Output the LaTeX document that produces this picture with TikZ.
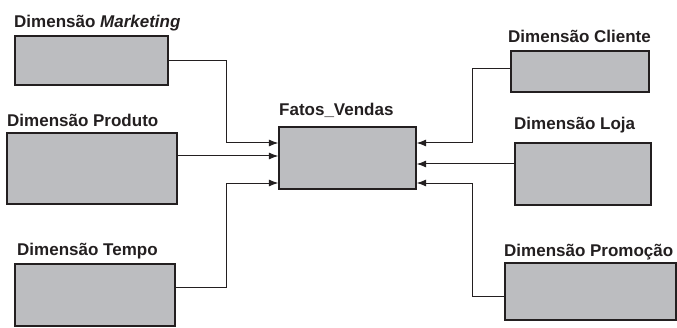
\documentclass[tikz,border=0pt]{standalone}
\usepackage{fontspec}
\setmainfont{Liberation Sans}
\usetikzlibrary{arrows.meta}
\definecolor{boxgray}{RGB}{188,189,192}
\definecolor{ink}{RGB}{35,31,32}
\begin{document}
\begin{tikzpicture}[x=1pt,y=1pt,
  dimbox/.style={draw=ink,fill=boxgray,line width=1.2pt,inner sep=0pt},
  lbl/.style={anchor=base west,inner sep=0pt,text=ink,font=\fontsize{17}{20}\selectfont\bfseries},
  conn/.style={draw=ink,line width=1pt,-{Latex[length=9.5pt,width=7pt]}}]
\useasboundingbox (0,0) rectangle (677,327);
% boxes
\node[dimbox,minimum width=153pt,minimum height=49pt] (mkt) at (91.5,266.5) {};
\node[dimbox,minimum width=170pt,minimum height=71pt] (prod) at (92,158.5) {};
\node[dimbox,minimum width=160pt,minimum height=62pt] (tempo) at (95,32) {};
\node[dimbox,minimum width=137pt,minimum height=62pt] (fact) at (347.5,169) {};
\node[dimbox,minimum width=138pt,minimum height=41pt] (cli) at (580,255.5) {};
\node[dimbox,minimum width=136pt,minimum height=62pt] (loja) at (583,153) {};
\node[dimbox,minimum width=171pt,minimum height=57pt] (promo) at (590.5,35.5) {};
% labels
\node[lbl] (lmkt) at (14,299) {Dimensão \textit{Marketing}};
\node[lbl] (lprod) at (7,200) {Dimensão Produto};
\node[lbl] (lfact) at (279,211) {Fatos\_Vendas};
\node[lbl] (ltempo) at (17,72) {Dimensão Tempo};
\node[lbl] (lcli) at (508,284) {Dimensão Cliente};
\node[lbl] (lloja) at (514,197) {Dimensão Loja};
\node[lbl] (lpromo) at (504,71) {Dimensão Promoção};
% bend points
\coordinate (bl1) at (226,266);
\coordinate (bl2) at (226,40);
\coordinate (br1) at (472,258);
\coordinate (br2) at (472,31);
% connectors
\draw[conn] (mkt.east |- bl1) -- (bl1) |- (fact.west |- 0,184);
\draw[conn] (prod.east |- 0,171) -- (fact.west |- 0,171);
\draw[conn] (tempo.east |- bl2) -- (bl2) |- (fact.west |- 0,144);
\draw[conn] (cli.west |- br1) -- (br1) |- (fact.east |- 0,184);
\draw[conn] (loja.west |- 0,163) -- (fact.east |- 0,163);
\draw[conn] (promo.west |- br2) -- (br2) |- (fact.east |- 0,144);
\end{tikzpicture}
\end{document}
